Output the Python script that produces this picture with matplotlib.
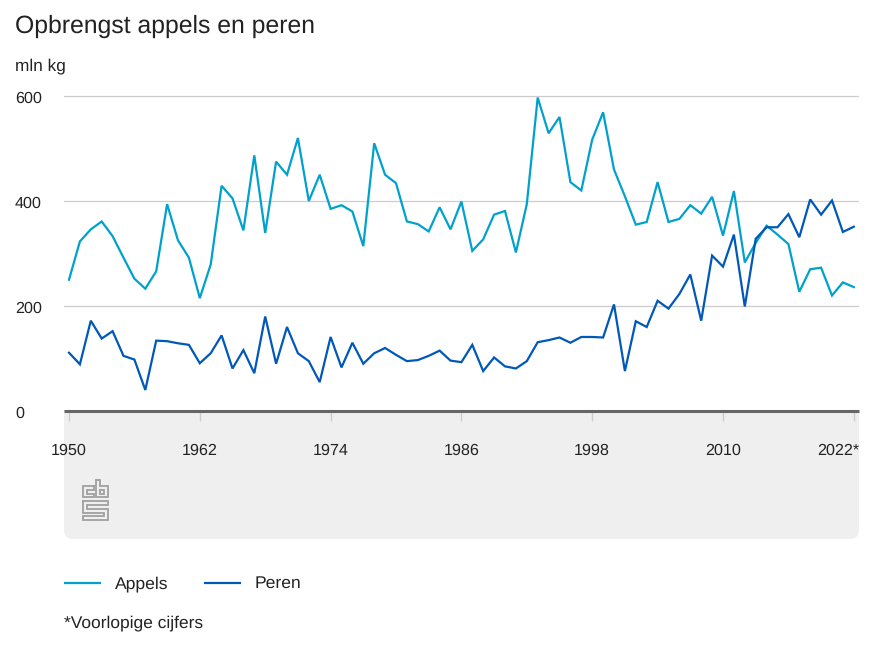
# Opbrengst appels en peren (CBS)
import matplotlib
matplotlib.use("Agg")
import matplotlib.pyplot as plt
from matplotlib.patches import FancyBboxPatch, Rectangle

plt.rcParams['font.family'] = ['Liberation Sans', 'DejaVu Sans']
plt.rcParams['text.hinting'] = 'no_hinting'

W, H = 874, 656
TEXT = '#222222'
APPLE = '#00a1cd'
PEAR = '#0058b8'

years = list(range(1950, 2023))
appels = [250, 323, 346, 361, 333, 292, 252, 233, 266, 394,
          325, 292, 215, 279, 429, 405, 344, 487, 339, 475,
          450, 520, 400, 450, 385, 392, 380, 314, 510, 450,
          434, 361, 356, 342, 388, 346, 399, 305, 327, 374,
          381, 302, 394, 597, 529, 560, 436, 420, 517, 569,
          460, 409, 355, 360, 436, 360, 366, 392, 376, 408,
          334, 419, 283, 320, 353, 336, 318, 227, 270, 273,
          220, 245, 236]
peren = [111, 89, 172, 138, 152, 105, 98, 40, 134, 133,
         129, 126, 91, 110, 144, 81, 116, 72, 180, 90,
         160, 110, 95, 55, 141, 83, 130, 90, 110, 120,
         107, 95, 97, 105, 115, 96, 93, 126, 76, 102,
         85, 81, 95, 131, 135, 140, 130, 141, 141, 140,
         203, 76, 171, 160, 210, 195, 223, 260, 172, 296,
         275, 336, 199, 328, 350, 350, 375, 331, 403, 374,
         401, 341, 351]
x_ticks = [1950, 1962, 1974, 1986, 1998, 2010, 2022]
x_labels = ['1950', '1962', '1974', '1986', '1998', '2010', '2022*']
y_ticks = [0, 200, 400, 600]

fig = plt.figure(figsize=(W / 100, H / 100), dpi=100, facecolor='white')

# overlay in pixel coordinates for panel, logo and legend
bg = fig.add_axes([0, 0, 1, 1], zorder=0)
bg.set_xlim(0, W)
bg.set_ylim(H, 0)
bg.axis('off')
bg.add_patch(FancyBboxPatch((64, 411), 795, 128, boxstyle='round,pad=0,rounding_size=9',
                            fc='#efefef', ec='none'))
bg.add_patch(Rectangle((64, 411), 795, 30, fc='#efefef', ec='none'))

# plot area: 0 at y=411, 600 at y=96, 1950 at x=69, 10.9 px per year
ax = fig.add_axes([64 / W, 1 - 411 / H, 795 / W, 325 / H], zorder=1)
ax.patch.set_alpha(0)
ax.set_xlim(1950 - 5 / 10.9, 1950 + 790 / 10.9)
ax.set_ylim(0, 325 / 0.525)

ax.plot(years, appels, color=APPLE, lw=1.6, solid_joinstyle='miter', zorder=3)
ax.plot(years, peren, color=PEAR, lw=1.6, solid_joinstyle='miter', zorder=4)

for s in ['top', 'right', 'left']:
    ax.spines[s].set_visible(False)
ax.spines['bottom'].set_color('#666666')
ax.spines['bottom'].set_linewidth(2.2)
ax.spines['bottom'].set_capstyle('butt')
ax.spines['bottom'].set_zorder(5)

ax.set_yticks(y_ticks)
ax.set_yticklabels([])
ax.tick_params(axis='y', length=0)
ax.grid(axis='y', color='#cccccc', lw=0.9, zorder=1)
for y in y_ticks:
    ax.annotate(str(y), xy=(0, y), xycoords=('figure pixels', 'data'), xytext=(15 * 0.72, -0.7),
                textcoords='offset points', ha='left', va='center_baseline', fontsize=11.6, color=TEXT)

ax.set_xticks(x_ticks)
ax.set_xticklabels(x_labels, fontsize=11.6, color=TEXT)
ax.tick_params(axis='x', length=7.5, width=1, color='#cccccc', pad=15.6)
lab = ax.get_xticklabels()[-1]
lab.set_ha('right')
lab.set_x(2022)
lab.set_transform(lab.get_transform() + matplotlib.transforms.ScaledTranslation(6 / 100, 0, fig.dpi_scale_trans))

# logo, drawn as grey outlines
LOGO = '#a0a0a0'
logo_paths = [
    [(94, 486), (83, 486), (83, 497), (94, 497), (94, 493.5), (87, 493.5), (87, 489.5), (94, 489.5), (94, 486)],
    [(96, 480), (96, 497), (108, 497), (108, 486), (100, 486), (100, 480), (96, 480)],
    [(100, 489.5), (104, 489.5), (104, 493.5), (100, 493.5), (100, 489.5)],
    [(83, 501), (108, 501), (108, 505), (87, 505), (87, 508.5), (108, 508.5), (108, 520), (83, 520),
     (83, 516), (104, 516), (104, 512.5), (83, 512.5), (83, 501)],
]
for path in logo_paths:
    bg.plot([p[0] for p in path], [p[1] for p in path], color=LOGO, lw=1.3, solid_joinstyle='miter')

# legend
bg.plot([64, 101], [583, 583], color=APPLE, lw=1.6, solid_capstyle='butt')
bg.plot([204, 241], [583, 583], color=PEAR, lw=1.6, solid_capstyle='butt')
bg.text(115, 588, 'Appels', fontsize=12.6, color=TEXT, va='baseline')
bg.text(255, 588, 'Peren', fontsize=12.6, color=TEXT, va='baseline')
bg.text(64, 627, '*Voorlopige cijfers', fontsize=12.5, color=TEXT, va='baseline')

bg.text(15, 33, 'Opbrengst appels en peren', fontsize=17.8, color=TEXT, va='baseline')
bg.text(15, 70, 'mln kg', fontsize=12.4, color=TEXT, va='baseline')

fig.savefig('out.png', dpi=100)
